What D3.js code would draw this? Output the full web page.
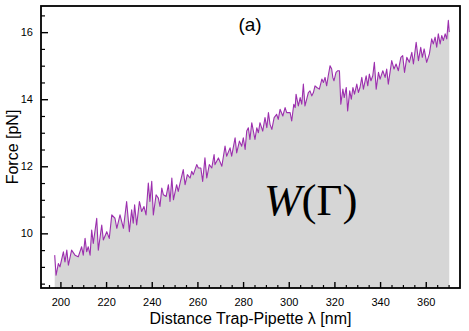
<!DOCTYPE html>
<html>
<head>
<meta charset="utf-8">
<script src="https://cdn.jsdelivr.net/npm/d3@7"></script>
<style>
  html, body { margin: 0; padding: 0; background: #fff; }
  svg { display: block; }
</style>
</head>
<body>
<svg id="chart" width="469" height="331"></svg>
<script>
// Distance trap-pipette (nm)
const distance = [
197.5,198.1,199.1,199.8,201.3,202.0,202.8,203.5,204.9,206.4,207.8,209.3,210.0,210.8,211.5,212.2,213.0,213.7,214.4,215.9,
216.6,218.1,218.8,220.3,221.4,222.5,223.9,224.7,226.1,227.6,229.0,230.2,231.2,231.9,232.5,233.4,234.6,235.6,236.6,237.5,
238.5,239.2,240.0,240.7,241.9,242.9,243.6,244.4,245.1,246.3,247.3,248.0,248.8,249.5,250.9,251.6,252.4,253.8,254.6,255.6,
256.8,257.5,258.2,259.7,260.4,261.5,262.3,263.3,264.1,265.2,266.3,267.3,267.7,269.2,270.7,272.1,272.8,274.3,275.0,276.5,
277.2,278.4,279.4,280.1,280.9,281.6,282.3,283.0,283.8,285.2,286.0,286.7,287.4,288.6,289.6,290.4,291.1,291.8,292.6,293.6,
294.7,295.4,296.2,297.4,298.4,299.1,300.6,301.3,302.2,302.8,303.2,304.2,305.0,305.7,306.4,307.1,308.6,309.3,310.1,310.8,
311.5,312.3,313.4,314.5,315.2,315.9,316.6,317.3,318.1,318.8,319.3,319.8,320.7,321.5,322.2,322.5,322.8,323.7,324.3,325.2,
325.8,326.7,327.4,328.1,328.8,329.8,330.5,331.2,332.0,332.7,333.9,334.6,335.3,336.0,336.8,337.5,338.3,339.3,340.0,341.2,
342.2,342.9,343.6,345.1,346.1,347.0,348.0,349.1,349.9,350.7,351.7,352.8,353.9,354.6,355.8,356.8,357.8,358.5,359.3,360.4,
361.6,362.6,363.3,364.1,364.8,365.5,366.3,367.0,367.7,368.5,369.2,369.9,370.3
];
// Force (pN)
const force = [
9.35,8.75,9.10,9.00,9.45,9.15,9.50,9.05,9.50,9.35,9.30,9.60,9.35,9.85,9.45,9.60,9.35,10.10,9.70,10.45,
9.50,10.25,9.80,10.05,9.85,10.55,10.45,10.15,10.55,10.15,10.95,10.05,10.70,10.30,10.85,10.25,10.95,10.65,10.80,10.55,
11.50,10.95,11.55,10.55,11.15,11.05,10.80,11.35,11.15,11.10,11.45,10.95,11.65,11.00,11.45,11.25,11.50,11.90,11.45,11.75,
11.65,11.85,11.75,12.05,11.95,11.95,11.55,12.25,11.65,12.05,11.95,12.35,12.05,12.25,12.00,12.60,12.30,12.55,12.30,12.85,
12.40,12.75,12.60,12.85,12.50,13.05,13.15,12.80,13.30,12.80,13.15,13.00,13.30,13.05,13.45,13.15,13.60,13.25,13.10,13.45,
13.55,13.40,13.70,13.50,13.75,13.60,13.60,13.35,13.85,13.75,14.15,13.80,14.05,13.85,14.45,13.80,14.20,14.25,14.10,14.20,
14.40,14.35,14.30,14.60,14.50,14.65,14.40,14.70,15.00,14.90,14.65,14.55,14.80,14.85,14.85,14.35,13.85,14.30,14.05,14.35,
13.65,14.25,14.00,14.35,14.15,14.45,14.20,14.35,14.65,14.30,14.70,14.40,14.75,14.55,14.70,15.10,14.30,14.80,14.60,14.85,
14.65,14.90,14.45,15.15,14.90,15.05,14.85,15.25,15.30,14.80,15.25,15.10,15.40,15.05,15.70,15.15,15.55,15.25,15.50,15.10,
15.35,15.80,15.65,15.85,15.55,15.95,15.65,15.90,15.75,15.95,15.80,16.35,16.00
];
const xTicks = [200, 220, 240, 260, 280, 300, 320, 340, 360];
const yTicks = [10, 12, 14, 16];
const xLabel = "Distance Trap-Pipette \u03bb [nm]";
const yLabel = "Force [pN]";
const panelLabel = "(a)";

const svg = d3.select("#chart");
const L = 41, R = 460, T = 6, B = 288;

const x = d3.scaleLinear().domain([191.5, 375.0]).range([L, R]);
const y = d3.scaleLinear().domain([8.37, 16.78]).range([B, T]);

const pts = distance.map((d, i) => [d, force[i]]);

// filled area
svg.append("path")
  .datum(pts)
  .attr("fill", "#d6d6d6")
  .attr("d", d3.area().x(d => x(d[0])).y0(B).y1(d => y(d[1])));

// line
svg.append("path")
  .datum(pts)
  .attr("fill", "none")
  .attr("stroke", "#9c2fae")
  .attr("stroke-width", 1.1)
  .attr("stroke-linejoin", "round")
  .attr("d", d3.line().x(d => x(d[0])).y(d => y(d[1])));

const font = "'Liberation Sans', Arial, Helvetica, sans-serif";

// minor ticks
const xMinor = d3.range(195, 375, 5).filter(v => v % 20 !== 0);
const yMinor = d3.range(8.5, 16.8, 0.5).filter(v => v % 2 !== 0);

svg.append("g").attr("transform", `translate(0,${B})`)
  .call(d3.axisBottom(x).tickValues(xMinor).tickSize(-3).tickFormat(""))
  .call(g => g.select(".domain").remove())
  .selectAll("line").attr("stroke", "#000").attr("stroke-width", 1.2);

svg.append("g").attr("transform", `translate(${L},0)`)
  .call(d3.axisLeft(y).tickValues(yMinor).tickSize(-4).tickFormat(""))
  .call(g => g.select(".domain").remove())
  .selectAll("line").attr("stroke", "#000").attr("stroke-width", 1.2);

// major ticks
const gx = svg.append("g").attr("transform", `translate(0,${B})`)
  .call(d3.axisBottom(x).tickValues(xTicks).tickSize(-6).tickPadding(10).tickFormat(d3.format("d")));
gx.select(".domain").remove();
gx.selectAll("line").attr("stroke", "#000").attr("stroke-width", 1.4);
gx.selectAll("text").attr("font-family", font).attr("font-size", 11).attr("fill", "#000");

const gy = svg.append("g").attr("transform", `translate(${L},0)`)
  .call(d3.axisLeft(y).tickValues(yTicks).tickSize(-7).tickPadding(8).tickFormat(d3.format("d")));
gy.select(".domain").remove();
gy.selectAll("line").attr("stroke", "#000").attr("stroke-width", 1.4);
gy.selectAll("text").attr("font-family", font).attr("font-size", 11).attr("fill", "#000");

// frame
svg.append("rect")
  .attr("x", L).attr("y", T).attr("width", R - L).attr("height", B - T)
  .attr("fill", "none").attr("stroke", "#000").attr("stroke-width", 1.8);

// axis labels
svg.append("text")
  .attr("x", (L + R) / 2).attr("y", 324)
  .attr("text-anchor", "middle")
  .attr("font-family", font).attr("font-size", 16)
  .text(xLabel);

svg.append("text")
  .attr("transform", `translate(18,${(T + B) / 2}) rotate(-90)`)
  .attr("text-anchor", "middle")
  .attr("font-family", font).attr("font-size", 16)
  .text(yLabel);

// panel label
svg.append("text")
  .attr("x", 250).attr("y", 31)
  .attr("text-anchor", "middle")
  .attr("font-family", font).attr("font-size", 19)
  .text(panelLabel);

// W(Γ)
const wt = svg.append("text")
  .attr("x", 264).attr("y", 215)
  .attr("font-family", "'Liberation Serif', 'Times New Roman', serif")
  .attr("font-size", 45);
wt.append("tspan").attr("font-style", "italic").text("W");
wt.append("tspan").text("(\u0393)");
</script>
</body>
</html>
